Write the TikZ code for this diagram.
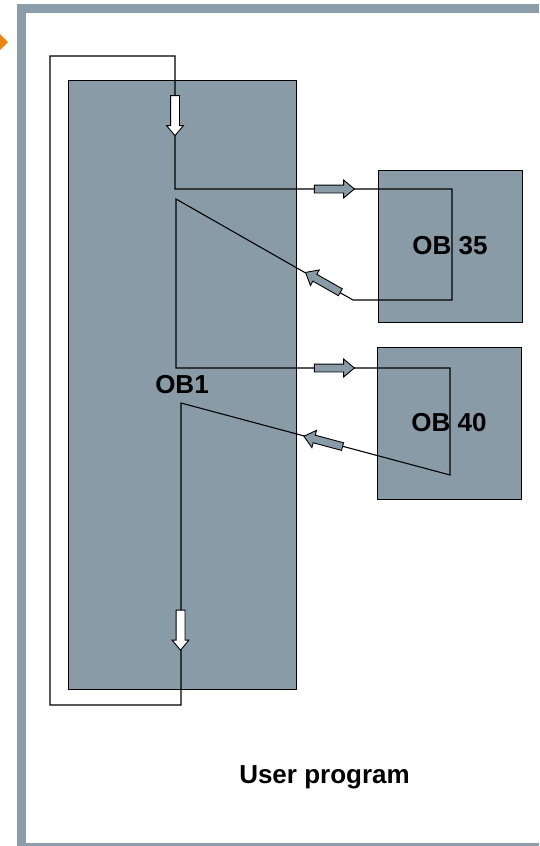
\documentclass[tikz,border=0pt]{standalone}
\usepackage{fontspec}
\setmainfont{Liberation Sans}
\usetikzlibrary{shapes.arrows}
\definecolor{plcgray}{HTML}{8A9BA8}
\definecolor{framegray}{HTML}{8C9DAA}
\definecolor{markorange}{HTML}{EE8410}

\begin{document}
\begin{tikzpicture}[x=1pt, y=-1pt,
  obbox/.style={draw, fill=plcgray, line width=1pt, inner sep=0pt,
    font=\bfseries\fontsize{26}{31}\selectfont},
  flow/.style={single arrow, draw, line width=0.9pt, inner xsep=0pt, inner ysep=3.5pt,
    text height=0pt, text depth=0pt, text width=0pt,
    minimum height=40pt, single arrow head extend=5pt,
    single arrow tip angle=80, fill=plcgray},
  cycle/.style={flow, fill=white, inner ysep=4pt, single arrow head extend=4pt},
  wire/.style={line width=1.1pt, line join=miter}]
\useasboundingbox (0,0) rectangle (539,846);
\clip (0,0) rectangle (539,846);
% frame of the slide
\draw[framegray, line width=9pt] (21.5,8.5) rectangle (560,847.5);
\fill[markorange] (-4,30) -- (8,42) -- (-4,54) -- cycle;
% organisation blocks
\node[obbox, minimum width=228pt, minimum height=609pt] (ob1) at (182,384.5) {OB1};
\node[obbox, minimum width=144pt, minimum height=152pt] (ob35) at (450,246) {OB 35};
\node[obbox, minimum width=144pt, minimum height=152pt] (ob40) at (449,423) {OB 40};
\node[font=\bfseries\fontsize{26}{31}\selectfont, anchor=base] (title) at (324.5,783) {User program};
% program flow
\coordinate (back) at (181,403);
\coordinate (lowright) at (181,705); \coordinate (lowleft) at (50,705);
\coordinate (upleft) at (50,56); \coordinate (upright) at (175,56);
\coordinate (call35) at (175,189); \coordinate (in35) at (452,189);
\coordinate (end35) at (452,300); \coordinate (out35) at (353,300);
\coordinate (ret35) at (176,199); \coordinate (call40) at (176,368);
\coordinate (in40) at (450,368); \coordinate (end40) at (450,475);
\draw[wire] (back) -- (lowright) -- (lowleft) -- (upleft) -- (upright) -- (call35)
  -- (in35) -- (end35) -- (out35) -- (ret35) -- (call40) -- (in40) -- (end40) -- cycle;
% direction marks
\node[cycle, rotate=-90] (cyc1) at (175,113) {};
\node[cycle, rotate=-90] (cyc2) at (180.5,627.5) {};
\foreach \x/\y/\a [count=\k] in {332/189/0, 325/283.5/150.3, 332/368/0, 325.5/442/165}
  \node[flow, rotate=\a] (fl\k) at (\x,\y) {};
\end{tikzpicture}
\end{document}
